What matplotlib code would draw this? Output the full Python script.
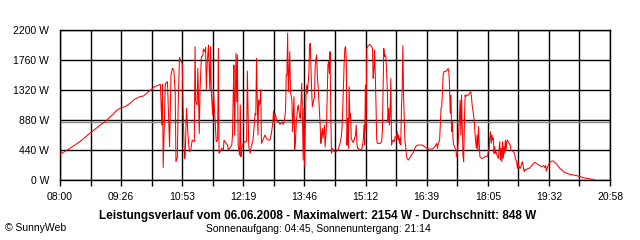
import matplotlib
matplotlib.use("Agg")
import matplotlib.pyplot as plt

plt.rcParams.update({"font.family": ["Liberation Sans", "DejaVu Sans"], "font.size": 7.5})

# time of day in minutes since midnight, power in W
minutes = [
    480, 494, 508, 522, 537, 544, 551, 555, 560, 565, 572, 579, 586, 593,
    598, 607, 614, 622, 624, 625, 626, 629, 632, 635, 637, 639, 641, 643, 644, 646,
    647, 649, 651, 653, 654, 656, 657, 659, 661, 663, 665, 667, 670, 671, 672, 674,
    675, 677, 678, 680, 682, 683, 685, 686, 687, 688, 690, 692, 693, 694, 696, 697,
    699, 701, 703, 704, 705,
    709, 711, 712, 715, 717, 718, 720, 723, 724, 725, 726, 727, 728, 729, 730, 731,
    732, 734, 735, 736, 737, 739, 742, 744, 745, 747, 749, 750, 753, 754, 756, 757,
    758, 760, 761, 762, 763, 764, 765, 768, 770, 772, 775, 777, 779, 781, 782, 783,
    784, 787, 789, 791, 794, 796, 797, 799, 800, 801, 802, 803, 804, 805, 806, 808,
    809, 811, 812, 813, 814, 816, 817, 819,
    820, 821, 822, 823, 824, 825, 826, 827, 828, 829, 830, 831, 832, 833, 834, 835,
    836, 837, 838, 840, 841, 843, 844, 845, 847, 848, 849, 850, 851, 852, 854, 855,
    857, 858, 859, 860, 861, 862, 863, 864, 866, 867, 869, 871, 874, 876, 878, 879,
    880, 881, 882, 883, 884, 885, 886, 887, 888, 889, 890, 891, 892, 894, 895, 896,
    898, 899, 900, 901, 902, 904, 907, 908, 909, 910, 911, 912, 913, 914, 916, 918,
    919, 921, 922, 923, 924, 925, 926, 927, 928, 929, 931,
    933, 935, 936, 937, 938, 939, 940, 941, 942, 943, 944, 945, 946, 947, 948, 949,
    950, 951, 953, 954, 956, 957, 958, 959, 960, 961, 962, 963, 964, 965, 966, 967,
    968, 969, 970, 971, 973, 975, 977, 980, 982, 984, 987, 989, 992, 994, 996, 999,
    1001, 1003, 1006, 1008, 1010, 1013, 1014, 1015, 1017, 1018, 1019, 1020, 1021, 1022,
    1023, 1025, 1026, 1028, 1029, 1030, 1031, 1032, 1033, 1034, 1035, 1036, 1037, 1039,
    1040, 1041, 1042, 1043, 1044, 1045,
    1046, 1047, 1048, 1049, 1050, 1051, 1052, 1053, 1054, 1055, 1058, 1059, 1061, 1062,
    1063, 1065, 1066, 1067, 1068, 1069, 1070, 1071, 1072, 1073, 1074, 1075, 1077, 1079,
    1081, 1084, 1085, 1087, 1088, 1089, 1090, 1091, 1092, 1093, 1094, 1095, 1096, 1097,
    1098, 1099, 1100, 1101, 1102, 1103, 1104, 1105, 1106, 1107, 1108, 1109, 1110, 1111,
    1112, 1113, 1114, 1115, 1117, 1118, 1120, 1121, 1123, 1124, 1126, 1127, 1128, 1129,
    1130, 1131, 1132, 1133, 1134, 1135, 1136, 1137, 1138, 1139, 1141, 1142, 1144, 1146,
    1148, 1150, 1152, 1154, 1157,
    1159, 1161, 1164, 1166, 1167, 1168, 1170, 1171, 1173, 1176, 1178, 1180, 1183, 1185,
    1187, 1190, 1192, 1194, 1197, 1201, 1206, 1211, 1216, 1220, 1225, 1230, 1234, 1236,
]
watts = [
    376, 464, 562, 684, 806, 855, 928, 963, 1021, 1051, 1075, 1124, 1188, 1222,
    1232, 1310, 1369, 1403, 806, 1403, 181, 1417, 1442, 488, 1540, 1637, 1613, 1271, 268, 327,
    1026, 1799, 1745, 1711, 1100, 317, 342, 1051, 660, 415, 440, 586, 562, 1955, 1149, 1100,
    1637, 684, 1295, 1809, 1823, 1921, 1882, 1941, 1320, 1662, 1980, 1320, 1955, 1295, 953, 1320,
    953, 562, 586, 1931, 391,
    464, 440, 586, 537, 513, 440, 464, 513, 660, 1222, 1686, 660, 1295, 1857, 1149, 1833,
    513, 366, 1100, 342, 464, 537, 562, 562, 1598, 488, 391, 464, 586, 709, 977, 953,
    1784, 660, 1173, 1100, 1149, 1320, 537, 611, 660, 611, 586, 586, 684, 831, 1012, 855,
    977, 865, 855, 816, 845, 816, 855, 1002, 1540, 1540, 2154, 1295, 1564, 1882, 1295, 1173,
    709, 1222, 440, 562, 806, 1051, 1100, 929,
    904, 1149, 1417, 904, 293, 1051, 195, 806, 1271, 1393, 1271, 1417, 1564, 1980, 2004, 1662,
    1295, 1075, 1124, 1222, 1686, 1833, 1540, 1393, 1002, 806, 537, 660, 757, 611, 806, 488,
    806, 1246, 1686, 1735, 1564, 1882, 1002, 391, 464, 425, 415, 415, 464, 537, 635, 782,
    1051, 1417, 1735, 1931, 1955, 1760, 513, 904, 464, 1369, 904, 977, 611, 562, 552, 586,
    660, 806, 537, 464, 464, 440, 454, 513, 586, 806, 513, 1393, 709, 1931, 1970, 1989,
    1980, 1955, 1931, 1491, 1613, 1906, 1540, 1100, 586, 537, 537,
    537, 562, 709, 1295, 1931, 1809, 1833, 1809, 1589, 1320, 855, 1051, 806, 1002, 1491, 513,
    562, 586, 562, 635, 611, 709, 586, 660, 537, 611, 513, 1051, 1344, 1970, 1222, 904,
    562, 488, 366, 317, 293, 327, 366, 405, 464, 503, 513, 513, 513, 503, 488, 464,
    454, 454, 454, 464, 488, 537, 464, 537, 586, 806, 1051, 1075, 1295, 1540,
    1589, 1589, 1600, 1613, 1637, 1589, 1393, 977, 1246, 709, 855, 586, 513, 464,
    440, 342, 366, 513, 709, 904,
    1173, 660, 1246, 806, 366, 268, 806, 1246, 1222, 1246, 1246, 1271, 1295, 1222,
    1100, 953, 855, 684, 562, 464, 660, 440, 782, 537, 342, 327, 317, 327,
    342, 342, 366, 464, 611, 709, 537, 660, 586, 611, 391, 488, 391, 415,
    366, 342, 317, 440, 562, 293, 464, 268, 562, 317, 488, 391, 586, 440,
    562, 586, 562, 537, 513, 440, 425, 415, 391, 317, 268, 171, 268, 171,
    195, 171, 195, 244, 268, 220, 146, 122, 161, 146, 161, 171, 171, 195,
    220, 244, 259, 244, 220,
    210, 195, 210, 181, 210, 132, 195, 229, 259, 278, 278, 259, 229, 195,
    171, 146, 122, 112, 98, 83, 73, 64, 49, 34, 24, 15, 10, 5,
]

average = 848
x_start, x_end = 480, 1258          # 08:00 .. 20:58
x_labels = ["08:00", "09:26", "10:53", "12:19", "13:46",
            "15:12", "16:39", "18:05", "19:32", "20:58"]
y_ticks = [0, 440, 880, 1320, 1760, 2200]

fig = plt.figure(figsize=(6.4, 2.4), dpi=100)
ax = fig.add_axes([60/640, 60/240, 550/640, 150/240])

# grid every 43 min, label every second line
step = (x_end - x_start) / 18
xt = [x_start + i*step for i in range(19)]
for x in xt:
    ax.axvline(x, color="black", lw=1.0, zorder=1)
for y in y_ticks:
    ax.axhline(y, color="black", lw=1.0, zorder=1)
ax.axhline(average, color="#8c8c8c", lw=1.0, zorder=2)

ax.plot(minutes, watts, color="#ff0000", lw=0.75, zorder=3)

ax.set_xlim(x_start, x_end)
ax.set_ylim(0, 2200)
ax.set_xticks(xt)
ax.set_xticklabels([x_labels[i//2] if i % 2 == 0 else "" for i in range(19)])
ax.set_yticks(y_ticks)
ax.set_yticklabels([f"{v} W" for v in y_ticks])
ax.tick_params(axis="x", length=4, width=1.0, pad=5, labelsize=7.5)
ax.tick_params(axis="y", length=0, pad=8, labelsize=7.5)
for sp in ax.spines.values():
    sp.set_linewidth(1.0)

fig.text(0.497, 0.10, "Leistungsverlauf vom 06.06.2008 - Maximalwert: 2154 W - Durchschnitt: 848 W",
         ha="center", va="center", fontsize=8.5, fontweight="bold")
fig.text(0.497, 0.045, "Sonnenaufgang: 04:45, Sonnenuntergang: 21:14",
         ha="center", va="center", fontsize=7.5)
fig.text(0.008, 0.048, "© SunnyWeb", ha="left", va="center", fontsize=7.5)

fig.savefig("out.png", dpi=100, facecolor="white")
